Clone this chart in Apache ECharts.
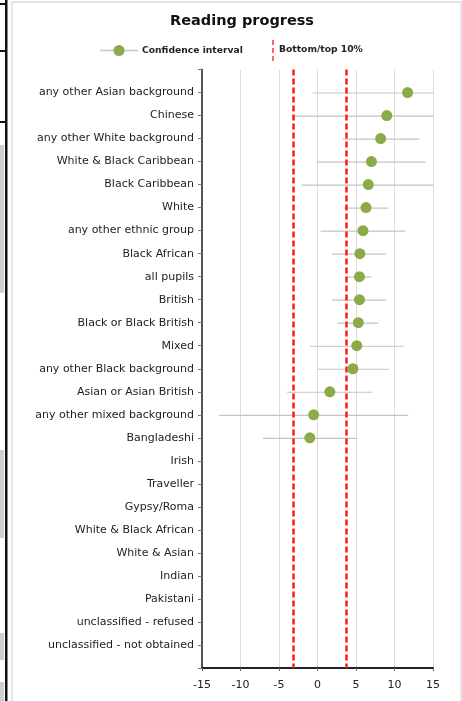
<!DOCTYPE html>
<html>
<head>
<meta charset="utf-8">
<script src="https://cdn.jsdelivr.net/npm/echarts@6/dist/echarts.min.js"></script>
<style>
html,body{margin:0;padding:0;background:#fff;}
#chart{width:462px;height:701px;}
</style>
</head>
<body>
<div id="chart"></div>
<script>
// ---- data ----
var categories = [
  'any other Asian background','Chinese','any other White background','White & Black Caribbean',
  'Black Caribbean','White','any other ethnic group','Black African','all pupils','British',
  'Black or Black British','Mixed','any other Black background','Asian or Asian British',
  'any other mixed background','Bangladeshi','Irish','Traveller','Gypsy/Roma',
  'White & Black African','White & Asian','Indian','Pakistani','unclassified - refused',
  'unclassified - not obtained'
];
var estimates = [11.7, 9.0, 8.2, 7.0, 6.6, 6.3, 5.9, 5.5, 5.45, 5.45, 5.3, 5.1, 4.6, 1.6, -0.5, -1.0,
  null, null, null, null, null, null, null, null, null];
var ciLow  = [-0.6, -3.25, 3.25, -0.1, -2.1, 3.4, 0.4, 1.9, 3.8, 1.9, 2.6, -1.0, 0.0, -3.95, -12.8, -7.1,
  null, null, null, null, null, null, null, null, null];
var ciHigh = [15, 15, 13.25, 14.05, 15, 9.2, 11.4, 8.9, 7.0, 8.9, 7.9, 11.2, 9.25, 7.05, 11.8, 5.15,
  null, null, null, null, null, null, null, null, null];
var thresholds = [-3.1, 3.75];   // bottom / top 10%
var xTicks = [-15, -10, -5, 0, 5, 10, 15];

// ---- build ----
var yData = [''].concat(categories).concat(['']);
var pointData = [], ciData = [];
for (var i = 0; i < categories.length; i++) {
  if (estimates[i] !== null) pointData.push([estimates[i], i + 1]);
  if (ciLow[i] !== null) ciData.push([ciLow[i], ciHigh[i], i + 1]);
}
var FONT = 'DejaVu Sans';
var chart = echarts.init(document.getElementById('chart'));
var option = {
  animation: false,
  backgroundColor: '#ffffff',
  title: {
    text: 'Reading progress', left: 237, top: 9, textAlign: 'center',
    textStyle: { fontFamily: FONT, fontSize: 14.5, fontWeight: 'bold', color: '#111' }
  },
  grid: { left: 202, right: 29, top: 69.5, bottom: 33, containLabel: false },
  xAxis: {
    type: 'value', min: xTicks[0], max: xTicks[xTicks.length - 1], interval: 5,
    axisLine: { show: true, onZero: false, lineStyle: { color: '#222', width: 2 } },
    axisTick: { show: true, length: 3, lineStyle: { color: '#666' } },
    axisLabel: { margin: 12, fontFamily: FONT, fontSize: 11, color: '#222' },
    splitLine: { show: true, lineStyle: { color: '#dcdcdc', width: 1 } }
  },
  yAxis: {
    type: 'category', data: yData, boundaryGap: false, inverse: true,
    axisLine: { show: true, onZero: false, lineStyle: { color: '#555', width: 2 } },
    axisTick: { show: true, length: 4, alignWithLabel: true, lineStyle: { color: '#777' } },
    axisLabel: { margin: 8, fontFamily: FONT, fontSize: 11, color: '#222', interval: 0 },
    splitLine: { show: false }
  },
  series: [
    {
      type: 'custom', name: 'CI',
      data: ciData,
      encode: { x: [0, 1], y: 2 },
      clip: true,
      renderItem: function (params, api) {
        var a = api.coord([api.value(0), api.value(2)]);
        var b = api.coord([api.value(1), api.value(2)]);
        return { type: 'line', shape: { x1: a[0], y1: a[1] + 0.5, x2: b[0], y2: b[1] + 0.5 },
                 style: { stroke: '#c4c4c4', lineWidth: 1.2 } };
      },
      z: 2
    },
    {
      type: 'scatter', name: 'Confidence interval',
      data: pointData, symbol: 'circle', symbolSize: 11,
      itemStyle: { color: '#8aab47', opacity: 1 },
      z: 5,
      markLine: {
        silent: true, symbol: 'none', label: { show: false },
        lineStyle: { color: '#ff1a1a', width: 2.5, type: [6, 3] },
        data: thresholds.map(function (v) { return { xAxis: v }; })
      }
    }
  ],
  graphic: [
    // surrounding page fragments
    { type: 'rect', shape: { x: 12, y: 2, width: 449, height: 705 },
      style: { fill: 'none', stroke: '#dedede', lineWidth: 1.5 }, silent: true },
    { type: 'rect', shape: { x: 0, y: 145, width: 4, height: 148 }, style: { fill: '#cfcfcf' } },
    { type: 'rect', shape: { x: 0, y: 450, width: 4, height: 88 }, style: { fill: '#cfcfcf' } },
    { type: 'rect', shape: { x: 0, y: 633, width: 4, height: 27 }, style: { fill: '#cfcfcf' } },
    { type: 'rect', shape: { x: 0, y: 682, width: 4, height: 19 }, style: { fill: '#cfcfcf' } },
    { type: 'rect', shape: { x: 5, y: 0, width: 2.5, height: 701 }, style: { fill: '#111' } },
    { type: 'rect', shape: { x: 0, y: 3, width: 7, height: 2 }, style: { fill: '#111' } },
    { type: 'rect', shape: { x: 0, y: 50, width: 7, height: 2 }, style: { fill: '#111' } },
    { type: 'rect', shape: { x: 0, y: 121, width: 7, height: 2 }, style: { fill: '#111' } },
    // legend
    { type: 'line', shape: { x1: 100, y1: 50.5, x2: 138, y2: 50.5 }, style: { stroke: '#c4c4c4', lineWidth: 1.5 } },
    { type: 'circle', shape: { cx: 119, cy: 50.5, r: 5.5 }, style: { fill: '#8aab47' } },
    { type: 'text', x: 142, y: 50.5, style: { text: 'Confidence interval', fontFamily: FONT, fontSize: 9.2, fontWeight: 'bold', fill: '#222', textVerticalAlign: 'middle', textAlign: 'left' } },
    { type: 'line', shape: { x1: 273, y1: 40, x2: 273, y2: 62 }, style: { stroke: '#ff3333', lineWidth: 1.5, lineDash: [5, 3] } },
    { type: 'text', x: 279, y: 50, style: { text: 'Bottom/top 10%', fontFamily: FONT, fontSize: 9.2, fontWeight: 'bold', fill: '#222', textVerticalAlign: 'middle', textAlign: 'left' } }
  ]
};
chart.setOption(option);
</script>
</body>
</html>
